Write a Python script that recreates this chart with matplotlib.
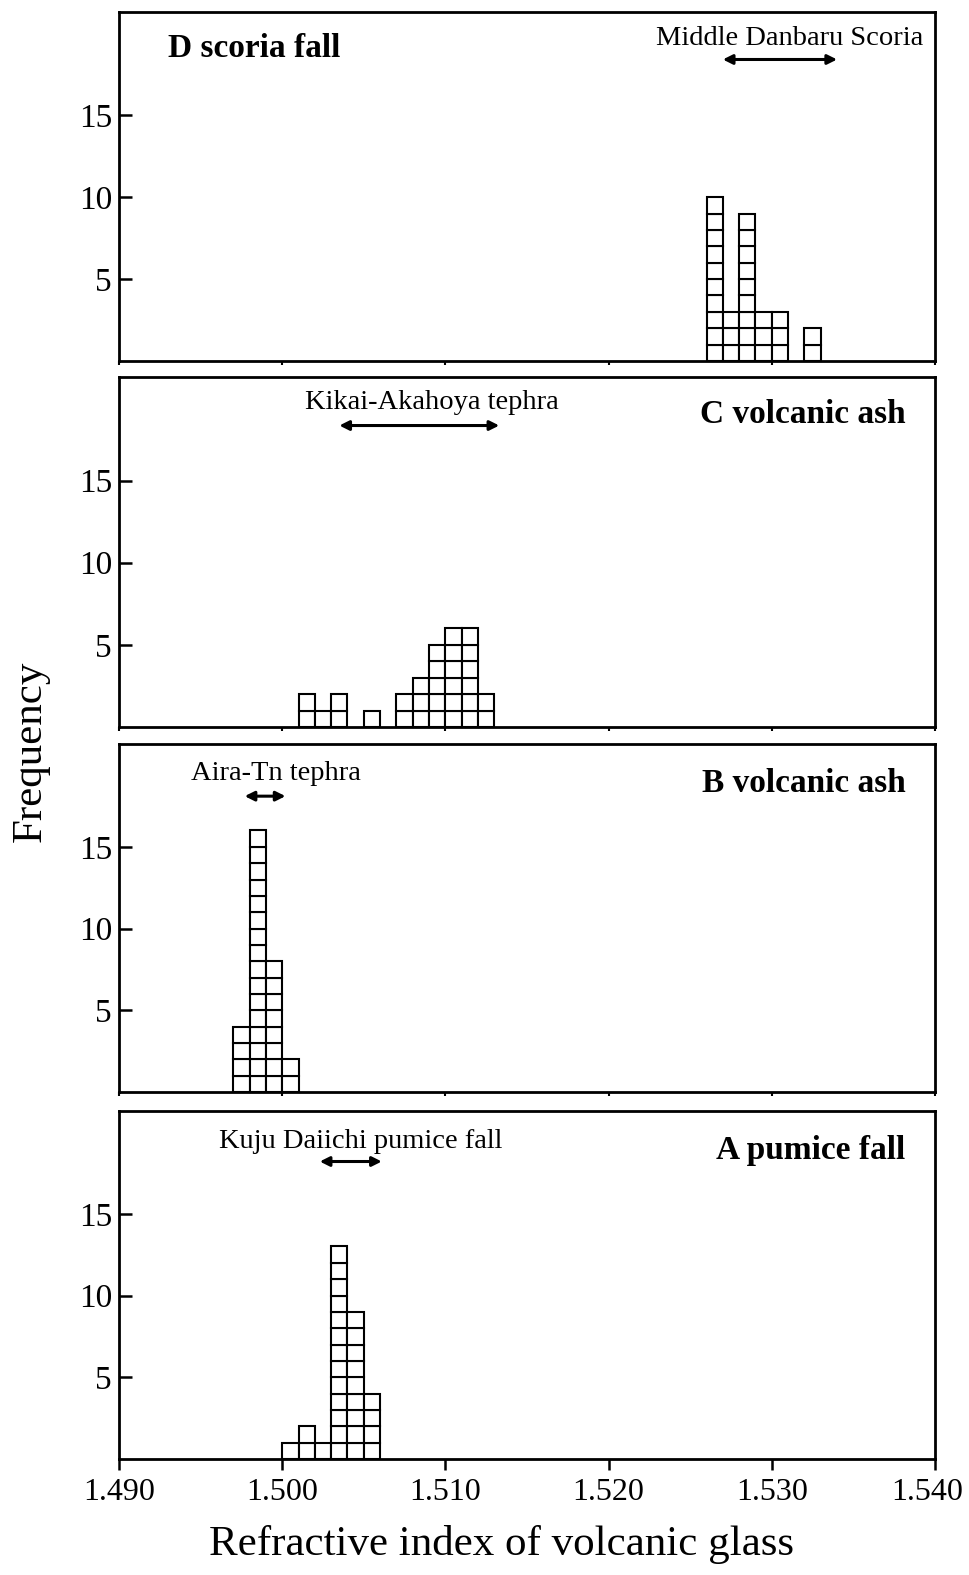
import matplotlib
matplotlib.use('Agg')
import matplotlib.pyplot as plt
import matplotlib.transforms as mtransforms

plt.rcParams['font.family'] = ['Liberation Serif', 'DejaVu Serif']

BIN = 0.001

# bin centres and counts, top panel first
d_x = [1.5265, 1.5275, 1.5285, 1.5295, 1.5305, 1.5325]
d_n = [10, 3, 9, 3, 3, 2]
c_x = [1.5015, 1.5025, 1.5035, 1.5055, 1.5075, 1.5085, 1.5095, 1.5105, 1.5115, 1.5125]
c_n = [2, 1, 2, 1, 2, 3, 5, 6, 6, 2]
b_x = [1.4975, 1.4985, 1.4995, 1.5005]
b_n = [4, 16, 8, 2]
a_x = [1.5005, 1.5015, 1.5025, 1.5035, 1.5045, 1.5055]
a_n = [1, 2, 1, 13, 9, 4]

titles = ['D scoria fall', 'C volcanic ash', 'B volcanic ash', 'A pumice fall']
tephra = ['Middle Danbaru Scoria', 'Kikai-Akahoya tephra', 'Aira-Tn tephra',
          'Kuju Daiichi pumice fall']
# tephra reference range (arrow) and label positions
ranges = [(1.5270, 1.5340), (1.5035, 1.5133), (1.4977, 1.5002), (1.5023, 1.5061)]
label_x = [1.5311, 1.5092, 1.4996, 1.5048]
label_y = [19.7, 19.75, 19.5, 19.45]
arrow_y = [18.4, 18.35, 18.1, 18.2]
title_x = [1.4930, 1.5382, 1.5382, 1.5382]
title_y = [19.1, 19.0, 18.9, 18.9]

xs = [d_x, c_x, b_x, a_x]
ns = [d_n, c_n, b_n, a_n]

fig = plt.figure(figsize=(9.7, 15.75), dpi=100)
bottoms = [0.7708, 0.5384, 0.3067, 0.0737]
heights = [0.2216, 0.2222, 0.2210, 0.2210]

for i in range(4):
    ax = fig.add_axes([0.1227, bottoms[i], 0.8412, heights[i]])
    # stack of unit squares for each bin
    for x, n in zip(xs[i], ns[i]):
        ax.bar([x] * n, [1] * n, bottom=list(range(n)), width=BIN,
               facecolor='white', edgecolor='black', linewidth=1.5)
    ax.set_xlim(1.490, 1.540)
    ax.set_ylim(0, 21.3)
    ax.set_yticks([5, 10, 15])
    ax.set_xticks([1.490, 1.500, 1.510, 1.520, 1.530, 1.540])
    ax.tick_params(axis='y', direction='in', length=9, width=1.8, labelsize=24, pad=5)
    for sp in ax.spines.values():
        sp.set_linewidth(2.0)
    if i < 3:
        ax.tick_params(axis='x', direction='out', length=3, width=1.5, labelbottom=False)
    else:
        ax.tick_params(axis='x', direction='out', length=8, width=1.8, labelsize=23, pad=6)
        ax.set_xticklabels(['1.490', '1.500', '1.510', '1.520', '1.530', '1.540'])
        # keep the last label inside the figure
        last = ax.get_xticklabels()[-1]
        last.set_transform(last.get_transform() +
                           mtransforms.ScaledTranslation(-0.08, 0, fig.dpi_scale_trans))

    ax.text(title_x[i], title_y[i], titles[i], fontsize=24, fontweight='bold',
            ha='left' if i == 0 else 'right', va='center')
    ax.text(label_x[i], label_y[i], tephra[i], fontsize=20.5, ha='center', va='center')
    ax.annotate('', xy=(ranges[i][1], arrow_y[i]), xytext=(ranges[i][0], arrow_y[i]),
                arrowprops=dict(arrowstyle='<|-|>', lw=2.2, color='black',
                                mutation_scale=14, shrinkA=0, shrinkB=0))

fig.text(0.5175, 0.0195, 'Refractive index of volcanic glass', fontsize=31,
         ha='center', va='center')
fig.text(0.031, 0.523, 'Frequency', fontsize=31, rotation=90, ha='center', va='center')

fig.savefig('out.png', dpi=100)
